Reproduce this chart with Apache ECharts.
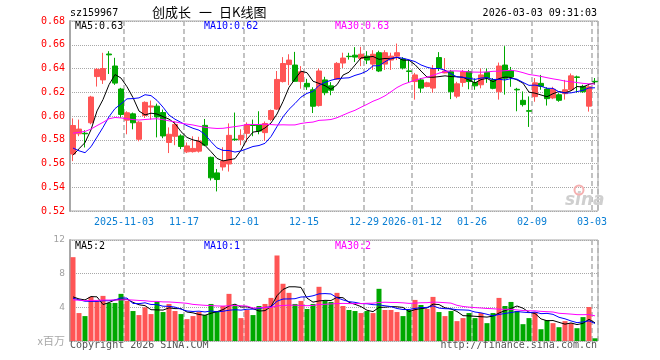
<!DOCTYPE html>
<html><head><meta charset="utf-8">
<script src="https://cdn.jsdelivr.net/npm/echarts@6/dist/echarts.min.js"></script>
<style>html,body{margin:0;padding:0;background:#fff}#c{width:660px;height:360px}</style>
</head><body><div id="c"></div>
<script>
// ---- data ----
const dates = [
'2025-10-21','2025-10-22','2025-10-23','2025-10-24','2025-10-27','2025-10-28','2025-10-29','2025-10-30','2025-10-31',
'2025-11-03','2025-11-04','2025-11-05','2025-11-06','2025-11-07','2025-11-10','2025-11-11','2025-11-12','2025-11-13','2025-11-14',
'2025-11-17','2025-11-18','2025-11-19','2025-11-20','2025-11-21','2025-11-24','2025-11-25','2025-11-26','2025-11-27','2025-11-28',
'2025-12-01','2025-12-02','2025-12-03','2025-12-04','2025-12-05','2025-12-08','2025-12-09','2025-12-10','2025-12-11','2025-12-12',
'2025-12-15','2025-12-16','2025-12-17','2025-12-18','2025-12-19','2025-12-22','2025-12-23','2025-12-24','2025-12-25','2025-12-26',
'2025-12-29','2025-12-30','2025-12-31',
'2026-01-05','2026-01-06','2026-01-07','2026-01-08','2026-01-09','2026-01-12','2026-01-13','2026-01-14','2026-01-15','2026-01-16',
'2026-01-19','2026-01-20','2026-01-21','2026-01-22','2026-01-23','2026-01-26','2026-01-27','2026-01-28','2026-01-29','2026-01-30',
'2026-02-02','2026-02-03','2026-02-04','2026-02-05','2026-02-06','2026-02-09','2026-02-10','2026-02-11','2026-02-12','2026-02-13',
'2026-02-24','2026-02-25','2026-02-26','2026-02-27','2026-03-02','2026-03-03'];

const opens = [0.568,0.585,0.5855,0.5943,0.6332,0.6304,0.6522,0.6421,0.6227,0.5965,
0.6018,0.5804,0.6004,0.6075,0.6083,0.6029,0.5777,0.5829,0.5832,0.5698,
0.570,0.5704,0.5921,0.5652,0.5521,0.5571,0.5596,0.5805,0.580,0.5854,
0.5925,0.5925,0.586,0.5971,0.6058,0.629,0.6433,0.6429,0.629,0.6275,
0.6221,0.6088,0.6304,0.6254,0.631,0.6446,0.6503,0.6512,0.6485,0.6504,
0.6437,0.6533,0.6437,0.6471,0.6504,0.6479,0.638,0.629,0.6304,0.6248,
0.6235,0.6492,0.6363,0.6373,0.6167,0.6283,0.6373,0.6282,0.6263,0.6367,
0.6304,0.6204,0.6429,0.6383,0.6225,0.6132,0.6045,0.6163,0.6275,0.6227,
0.6152,0.6179,0.6188,0.6221,0.6329,0.625,0.6083,0.6292];
const closes = [0.592,0.589,0.585,0.616,0.6393,0.640,0.6515,0.6277,0.6013,0.6027,
0.5943,0.5948,0.6115,0.6085,0.5992,0.5832,0.5846,0.5929,0.5743,0.5748,
0.5727,0.579,0.5754,0.5479,0.5465,0.5621,0.5837,0.580,0.5837,0.5929,
0.592,0.5873,0.5937,0.6046,0.6308,0.6442,0.6471,0.6292,0.6373,0.6246,
0.6082,0.6379,0.6196,0.6217,0.6443,0.6488,0.650,0.6496,0.652,0.6471,
0.652,0.6379,0.6533,0.6504,0.6533,0.6404,0.6375,0.6346,0.6235,0.6279,
0.6396,0.6402,0.6379,0.6204,0.6271,0.6373,0.629,0.6254,0.6346,0.6321,
0.6233,0.6421,0.6318,0.6329,0.622,0.6096,0.604,0.6279,0.625,0.6146,
0.6225,0.6132,0.6221,0.6338,0.6325,0.6204,0.6246,0.6288];
const lows = [0.562,0.583,0.5735,0.593,0.6248,0.627,0.6354,0.6262,0.5985,0.5846,
0.5888,0.5787,0.5983,0.597,0.582,0.5813,0.5688,0.5754,0.5721,0.5688,
0.5692,0.5692,0.5746,0.5457,0.5365,0.554,0.5532,0.579,0.5754,0.578,
0.583,0.5846,0.579,0.5957,0.605,0.6282,0.626,0.6288,0.623,0.622,
0.6025,0.6079,0.6175,0.6175,0.6304,0.6404,0.6475,0.6454,0.642,0.6437,
0.6388,0.637,0.6388,0.6388,0.6471,0.6392,0.628,0.6138,0.6196,0.6242,
0.6196,0.6379,0.636,0.6142,0.615,0.6246,0.6225,0.6221,0.6233,0.6279,
0.6225,0.6138,0.618,0.6246,0.604,0.608,0.5908,0.612,0.6221,0.6088,
0.6142,0.612,0.6138,0.6213,0.6196,0.6196,0.6037,0.6263];
const highs = [0.598,0.597,0.588,0.617,0.6404,0.6532,0.6546,0.649,0.6237,0.604,
0.6029,0.5957,0.6123,0.613,0.6104,0.6054,0.5904,0.5954,0.5846,0.5777,
0.5829,0.5825,0.5975,0.5658,0.5554,0.5737,0.5938,0.6029,0.5888,0.5946,
0.597,0.604,0.5954,0.6054,0.6379,0.6496,0.652,0.654,0.642,0.6313,
0.6242,0.640,0.633,0.6285,0.6454,0.6533,0.6532,0.658,0.6583,0.6546,
0.6554,0.655,0.6554,0.6533,0.661,0.6496,0.647,0.6363,0.632,0.6288,
0.6429,0.6538,0.6488,0.6388,0.6288,0.6388,0.6388,0.6317,0.640,0.640,
0.632,0.645,0.6588,0.6413,0.6237,0.6207,0.6165,0.632,0.6346,0.6242,
0.6246,0.6192,0.6304,0.6358,0.634,0.6263,0.6263,0.632];
const volumes = [9.96,3.32,2.96,5.24,4.76,5.36,4.52,4.52,5.6,4.76,
3.56,3.08,4.0,3.2,4.64,3.44,4.4,3.56,3.2,2.6,
2.96,3.44,3.08,4.4,3.56,4.16,5.6,4.16,2.72,3.68,
3.08,4.16,4.4,5.12,10.16,6.8,5.72,4.4,4.76,3.8,
4.4,6.44,4.76,4.64,5.72,4.16,3.68,3.56,3.32,3.56,
3.32,6.2,3.68,3.68,3.44,2.96,3.68,4.88,4.28,3.8,
5.24,3.44,2.96,3.56,2.36,2.72,3.32,2.72,3.32,2.12,
3.32,5.12,4.16,4.64,3.56,2.0,2.72,3.44,1.4,2.48,
2.12,1.64,2.36,2.12,1.52,2.84,4.04,0.32];
// sessions just before the window (estimated from where the MA lines start)
const priorCloses = [0.566,0.562,0.556,0.552,0.558,0.560,0.596,0.612,0.624,0.616,
0.606,0.598,0.596,0.592,0.606,0.614,0.620,0.606,0.600,0.594,
0.612,0.601,0.566,0.558,0.558,0.562,0.559,0.562,0.560];
const priorVolumes = [4.2,4.6,4.4,4.8,4.0,4.6,4.4,5.0,4.4,4.6,
4.6,5.0,5.4,4.8,5.2,4.6,5.0,4.8,4.4,6.8,
5.2,4.6,5.4,4.8,4.6,4.52,3.56,3.24,4.92];

const tickDates = ['2025-11-03','2025-11-17','2025-12-01','2025-12-15','2025-12-29','2026-01-12','2026-01-26','2026-02-09','2026-03-03'];
const tickLabels = ['2025-11-03','11-17','12-01','12-15','12-29','2026-01-12','01-26','02-09','03-03'];
const priceMin = 0.52, priceMax = 0.68, priceStep = 0.02;
const volMin = 0, volMax = 12, volStep = 4;
const titleParts = ['创成长', '一', '日K线图'];
const priceLegend = ['MA5:0.63','MA10:0.62','MA30:0.63'];
const volLegend = ['MA5:2','MA10:1','MA30:2'];
const maPeriods = [5, 10, 30];

// ---- build ----
const UP = '#ff5555', DOWN = '#00a800';
const maColors = ['#000000', '#0000ff', '#ff00ff'];
const MONO = '"DejaVu Sans Mono", "Liberation Mono", monospace';
const CJK = '"Noto Sans CJK SC", sans-serif';

function movingAvg(prior, vals, n) {
  const all = prior.concat(vals), off = prior.length;
  return vals.map((_, i) => {
    const end = off + i, start = end - n + 1;
    if (start < 0) return '-';
    let s = 0;
    for (let k = start; k <= end; k++) s += all[k];
    return +(s / n).toFixed(5);
  });
}

const kData = dates.map((d, i) => [opens[i], closes[i], lows[i], highs[i]]);
const volData = volumes.map((v, i) => ({ value: v, itemStyle: { color: closes[i] >= opens[i] ? UP : DOWN } }));
const isTick = (idx, val) => tickDates.indexOf(val) >= 0;
const dashLine = { show: true, interval: isTick, lineStyle: { color: '#b4b4b4', width: 1.6, type: [5, 3] } };

const series = [{
  type: 'candlestick', xAxisIndex: 0, yAxisIndex: 0, data: kData, barWidth: 5,
  itemStyle: { color: UP, color0: DOWN, borderColor: UP, borderColor0: DOWN, borderWidth: 1 },
  silent: true, z: 2
}];
maPeriods.forEach((n, j) => series.push({
  type: 'line', xAxisIndex: 0, yAxisIndex: 0, data: movingAvg(priorCloses, closes, n),
  symbol: 'none', lineStyle: { color: maColors[j], width: 1 }, silent: true, z: 3
}));
series.push({ type: 'bar', xAxisIndex: 1, yAxisIndex: 1, data: volData, barWidth: 5, silent: true, z: 2 });
maPeriods.forEach((n, j) => series.push({
  type: 'line', xAxisIndex: 1, yAxisIndex: 1, data: movingAvg(priorVolumes, volumes, n),
  symbol: 'none', lineStyle: { color: maColors[j], width: 1 }, silent: true, z: 3
}));

const legendX = [75, 204, 335];
const titleX = [152, 199, 219];
const graphic = [
  { type: 'text', style: { text: 'sz159967', x: 70, y: 13, font: '10px ' + MONO, fill: '#000', align: 'left', verticalAlign: 'middle' } },
  { type: 'text', style: { text: '2026-03-03 09:31:03', x: 597, y: 13, font: '10px ' + MONO, fill: '#000', align: 'right', verticalAlign: 'middle' } },
  { type: 'text', style: { text: 'Copyright 2026 SINA.COM', x: 70, y: 345.5, font: '10px ' + MONO, fill: '#555', align: 'left', verticalAlign: 'middle' } },
  { type: 'text', style: { text: 'http://finance.sina.com.cn', x: 597, y: 345.5, font: '10px ' + MONO, fill: '#555', align: 'right', verticalAlign: 'middle' } },
  { type: 'text', z: 1, style: { text: 'sina', x: 565, y: 201, font: 'italic bold 17px "DejaVu Sans", sans-serif', fill: '#cfcfcf', align: 'left', verticalAlign: 'middle' } },
  { type: 'circle', z: 1, shape: { cx: 579, cy: 190, r: 4.5 }, style: { fill: 'none', stroke: '#f5b0b0', lineWidth: 2 } }
];
titleParts.forEach((t, j) => graphic.push({ type: 'text', style: { text: t, x: titleX[j], y: 12.5, font: '13px ' + CJK, fill: '#000', align: 'left', verticalAlign: 'middle' } }));
priceLegend.forEach((t, j) => graphic.push({ type: 'text', z: 10, style: { text: t, x: legendX[j], y: 26.5, font: '10px ' + MONO, fill: maColors[j], align: 'left', verticalAlign: 'middle' } }));
volLegend.forEach((t, j) => graphic.push({ type: 'text', z: 10, style: { text: t, x: legendX[j], y: 246.5, font: '10px ' + MONO, fill: maColors[j], align: 'left', verticalAlign: 'middle' } }));

const option = {
  animation: false,
  backgroundColor: '#fff',
  grid: [
    { left: 70, top: 21, width: 528, height: 190, show: true, borderColor: '#a8a8a8', borderWidth: 1, backgroundColor: 'transparent' },
    { left: 70, top: 240, width: 528, height: 101, show: true, borderColor: '#a8a8a8', borderWidth: 1, backgroundColor: 'transparent' }
  ],
  xAxis: [
    { type: 'category', gridIndex: 0, data: dates, boundaryGap: true,
      axisLine: { show: false }, axisTick: { show: false }, splitLine: dashLine,
      axisLabel: { interval: isTick, formatter: v => tickLabels[tickDates.indexOf(v)] || '',
        color: '#0a7fd4', fontFamily: MONO, fontSize: 10, margin: 6, padding: [0, 6, 0, 0] } },
    { type: 'category', gridIndex: 1, data: dates, boundaryGap: true,
      axisLine: { show: false }, axisTick: { show: false }, splitLine: dashLine, axisLabel: { show: false } }
  ],
  yAxis: [
    { type: 'value', gridIndex: 0, min: priceMin, max: priceMax, interval: priceStep,
      axisLine: { show: true, lineStyle: { color: '#a8a8a8', width: 2 } }, axisTick: { show: false },
      splitLine: { show: true, lineStyle: { color: '#a8a8a8', width: 1, type: [1, 1] } },
      axisLabel: { color: '#ff0000', fontFamily: MONO, fontSize: 10, margin: 5, formatter: v => v.toFixed(2) } },
    { type: 'value', gridIndex: 1, min: volMin, max: volMax, interval: volStep,
      axisLine: { show: true, lineStyle: { color: '#a8a8a8', width: 2 } }, axisTick: { show: false },
      splitLine: { show: true, lineStyle: { color: '#a8a8a8', width: 1, type: [1, 1] } },
      axisLabel: { margin: 5, formatter: v => v === 0 ? '{u|x百万}' : '{n|' + v + '}',
        rich: { n: { color: '#a0a0a0', fontFamily: '"DejaVu Sans", sans-serif', fontSize: 9 },
                u: { color: '#a8a8a8', fontFamily: CJK, fontSize: 11 } } } }
  ],
  series: series,
  graphic: graphic
};
const chart = echarts.init(document.getElementById('c'), null, { renderer: 'canvas' });
chart.setOption(option);
</script></body></html>
